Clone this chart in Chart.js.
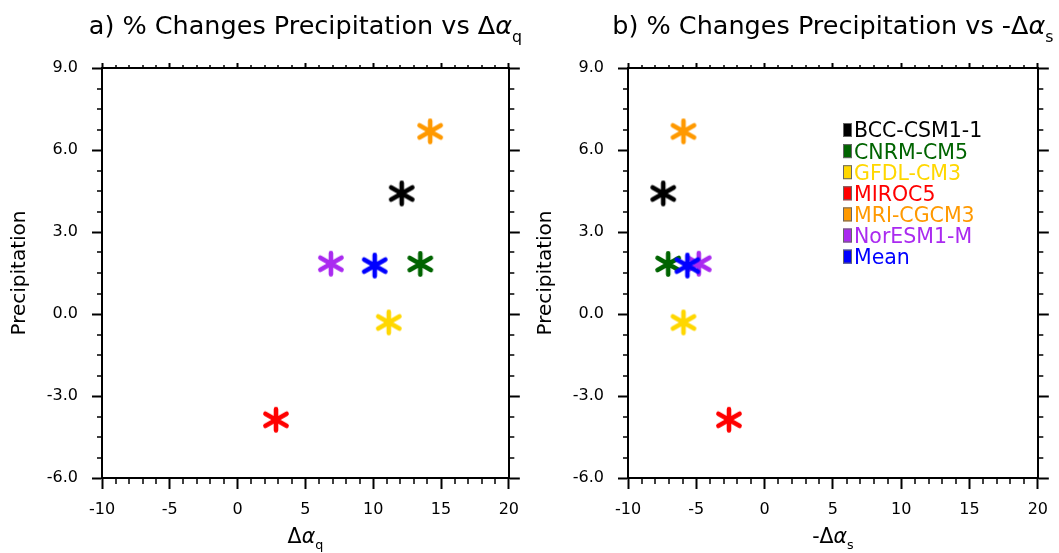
<!DOCTYPE html>
<html>
<head>
<meta charset="utf-8">
<title>Precipitation change vs albedo feedback</title>
<script src="https://cdn.jsdelivr.net/npm/chart.js@4.4.1/dist/chart.umd.min.js"></script>
<style>
  html, body { margin: 0; padding: 0; background: #fff; }
  #wrap { position: relative; width: 1059px; height: 553px; }
  canvas { position: absolute; top: 0; }
  #chartA { left: 0; }
  #chartB { left: 530px; }
</style>
</head>
<body>
<div id="wrap">
  <canvas id="chartA" width="530" height="553"></canvas>
  <canvas id="chartB" width="529" height="553"></canvas>
</div>
<script>
// models and their marker colours
const models = ['BCC-CSM1-1', 'CNRM-CM5', 'GFDL-CM3', 'MIROC5', 'MRI-CGCM3', 'NorESM1-M', 'Mean'];
const colors = ['#000000', '#006400', '#FFD700', '#FF0000', '#FF9900', '#AA2AF0', '#0000FF'];

// % change of precipitation per model
const precip = [4.41, 1.83, -0.31, -3.87, 6.68, 1.84, 1.77];
// delta alpha_q (panel a) and -delta alpha_s (panel b)
const dAlphaQ = [12.1, 13.47, 11.15, 2.83, 14.2, 6.88, 10.11];
const negDAlphaS = [-7.42, -7.06, -5.94, -2.61, -5.94, -4.82, -5.65];

// axis ranges / tick spacing
const xRange = [-10, 20], xMajor = 5, xMinor = 1;
const yRange = [-6, 9], yMajor = 3, yMinor = 0.75;

const FONT = 'DejaVu Sans';

// six-armed asterisk marker, one canvas per colour
function asterisk(color) {
  const c = document.createElement('canvas');
  c.width = 34; c.height = 34;
  const g = c.getContext('2d');
  g.strokeStyle = color;
  g.lineWidth = 4.6;
  g.lineCap = 'round';
  g.translate(17, 17);
  g.beginPath();
  g.moveTo(0, -10.6); g.lineTo(0, 10.6);
  for (const a of [Math.PI / 6, -Math.PI / 6]) {
    const dx = Math.cos(a) * 12.2, dy = Math.sin(a) * 12.2;
    g.moveTo(-dx, -dy); g.lineTo(dx, dy);
  }
  g.stroke();
  return c;
}
const markers = colors.map(asterisk);

// text with greek letters and a subscript, centred on x
function richText(ctx, pieces, x, y, size) {
  const fontFor = p => (p.it ? 'italic ' : '') + (p.sub ? size * 0.62 : size) + 'px "' + FONT + '"';
  let total = 0;
  pieces.forEach(p => { ctx.font = fontFor(p); p.w = ctx.measureText(p.t).width; total += p.w; });
  let cx = x - total / 2;
  ctx.textAlign = 'left';
  ctx.textBaseline = 'alphabetic';
  pieces.forEach(p => {
    ctx.font = fontFor(p);
    ctx.fillText(p.t, cx, y + (p.sub ? size * 0.3 : 0));
    cx += p.w;
  });
}

const nclDecor = {
  id: 'nclDecor',
  afterDraw(chart, args, opts) {
    const { ctx, chartArea: a, scales } = chart;
    const xs = scales.x, ys = scales.y;
    ctx.save();

    // minor tick marks on all four sides
    ctx.strokeStyle = '#000';
    ctx.lineWidth = 1.5;
    ctx.beginPath();
    for (let v = xRange[0]; v <= xRange[1]; v += xMinor) {
      if (v % xMajor === 0) continue;
      const px = Math.round(xs.getPixelForValue(v));
      ctx.moveTo(px, a.bottom); ctx.lineTo(px, a.bottom + 6);
      ctx.moveTo(px, a.top); ctx.lineTo(px, a.top - 3);
    }
    const nMinor = Math.round((yRange[1] - yRange[0]) / yMinor);
    const perMajor = Math.round(yMajor / yMinor);
    for (let k = 0; k <= nMinor; k++) {
      if (k % perMajor === 0) continue;
      const py = Math.round(ys.getPixelForValue(yRange[0] + k * yMinor));
      ctx.moveTo(a.left, py); ctx.lineTo(a.left - 5, py);
      ctx.moveTo(a.right, py); ctx.lineTo(a.right + 5.5, py);
    }
    ctx.stroke();

    const cx = (a.left + a.right) / 2;
    const cy = (a.top + a.bottom) / 2;
    ctx.fillStyle = '#000';

    // panel title and x axis title
    richText(ctx, opts.title, cx, 34, 25.5);
    richText(ctx, opts.xTitle, cx, 543, 20.5);

    // y axis title
    ctx.save();
    ctx.translate(a.left - 77, cy);
    ctx.rotate(-Math.PI / 2);
    ctx.font = '20px "' + FONT + '"';
    ctx.textAlign = 'center';
    ctx.textBaseline = 'alphabetic';
    ctx.fillText('Precipitation', 0, 0);
    ctx.restore();

    // legend
    if (opts.legend) {
      const lx = a.left + 215, ly = a.top + 62, step = 21.1;
      ctx.font = '20.5px "' + FONT + '"';
      ctx.textAlign = 'left';
      models.forEach((m, i) => {
        const yc = ly + i * step;
        ctx.fillStyle = colors[i];
        ctx.fillRect(lx, yc - 7, 9, 14);
        ctx.strokeStyle = '#666';
        ctx.lineWidth = 1;
        ctx.strokeRect(lx + 0.5, yc - 6.5, 8, 13);
        ctx.fillText(m, lx + 11, yc + 7.4);
      });
    }
    ctx.restore();
  }
};

function makeScales(leftW, rightW) {
  const tickFont = { family: FONT, size: 16 };
  const grid = len => ({ display: true, drawOnChartArea: false, drawTicks: true, tickLength: len, tickWidth: 2, tickColor: '#000' });
  const border = { display: true, color: '#000', width: 2 };
  return {
    x: {
      type: 'linear', position: 'bottom', min: xRange[0], max: xRange[1],
      ticks: { stepSize: xMajor, font: tickFont, color: '#000', padding: 11, maxRotation: 0 },
      grid: grid(11), border,
      afterFit: s => { s.height = 75; }
    },
    x2: {
      type: 'linear', position: 'top', min: xRange[0], max: xRange[1],
      ticks: { stepSize: xMajor, display: false },
      grid: grid(5), border,
      afterFit: s => { s.height = 68; }
    },
    y: {
      type: 'linear', position: 'left', min: yRange[0], max: yRange[1],
      ticks: { stepSize: yMajor, font: tickFont, color: '#000', padding: 14, callback: v => v.toFixed(1) },
      grid: grid(10), border,
      afterFit: s => { s.width = leftW; }
    },
    y2: {
      type: 'linear', position: 'right', min: yRange[0], max: yRange[1],
      ticks: { stepSize: yMajor, display: false },
      grid: grid(11), border,
      afterFit: s => { s.width = rightW; }
    }
  };
}

function makeChart(id, xs, decor, leftW, rightW) {
  const datasets = models.map((m, i) => ({
    label: m,
    data: [{ x: xs[i], y: precip[i] }],
    pointStyle: markers[i],
    pointRadius: 12,
    order: models.length - i
  }));
  return new Chart(document.getElementById(id), {
    type: 'scatter',
    data: { datasets },
    options: {
      responsive: false,
      animation: false,
      devicePixelRatio: 1,
      layout: { padding: 0 },
      scales: makeScales(leftW, rightW),
      plugins: {
        legend: { display: false },
        tooltip: { enabled: false },
        nclDecor: decor
      }
    },
    plugins: [nclDecor]
  });
}

makeChart('chartA', dAlphaQ, {
  title: [{ t: 'a) % Changes Precipitation vs \u0394' }, { t: '\u03b1', it: true }, { t: 'q', sub: true }],
  xTitle: [{ t: '\u0394' }, { t: '\u03b1', it: true }, { t: 'q', sub: true }],
  legend: false
}, 102, 17);

makeChart('chartB', negDAlphaS, {
  title: [{ t: 'b) % Changes Precipitation vs -\u0394' }, { t: '\u03b1', it: true }, { t: 's', sub: true }],
  xTitle: [{ t: '-\u0394' }, { t: '\u03b1', it: true }, { t: 's', sub: true }],
  legend: true
}, 98, 20);
</script>
</body>
</html>
